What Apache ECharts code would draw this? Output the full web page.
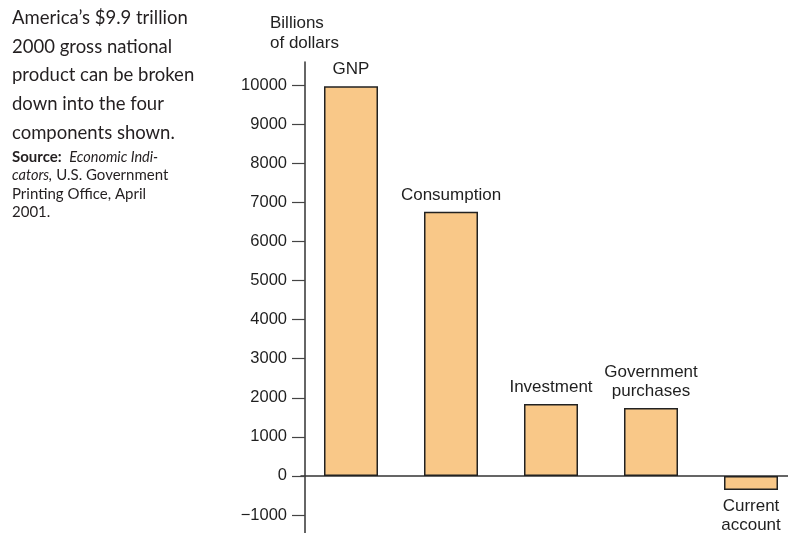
<!DOCTYPE html>
<html>
<head>
<meta charset="utf-8">
<script src="https://cdn.jsdelivr.net/npm/echarts@6/dist/echarts.min.js"></script>
<style>
  html, body { margin: 0; padding: 0; background: #fff; }
  #chart { width: 788px; height: 533px; }
</style>
</head>
<body>
<div id="chart"></div>
<script>
// components of 2000 GNP, billions of dollars
const categories = ['GNP', 'Consumption', 'Investment', 'Government\npurchases', 'Current\naccount']
const values = [9970, 6760, 1840, 1740, -360]
const tickValues = [-1000, 0, 1000, 2000, 3000, 4000, 5000, 6000, 7000, 8000, 9000, 10000]

const noteLines = [
  'America\u2019s $9.9 trillion',
  '2000 gross national',
  'product can be broken',
  'down into the four',
  'components shown.'
]
const sourceLines = [
  '{b|Source:}  {i|Economic Indi-}',
  '{i|cators,} U.S. Government',
  'Printing Office, April',
  '2001.'
]

const chart = echarts.init(document.getElementById('chart'))
const labelFont = '"Liberation Sans", Arial, sans-serif'

// left caption
const graphics = noteLines.map((t, i) => ({
  type: 'text',
  x: 12,
  y: 18 + i * 28.7,
  style: { text: t, font: '18.5px Lato, sans-serif', fill: '#231f20', verticalAlign: 'middle' }
}))
sourceLines.forEach((t, i) => {
  graphics.push({
    type: 'text',
    x: 12,
    y: 157 + i * 18.5,
    style: {
      text: t,
      font: '15px Lato, sans-serif',
      fill: '#231f20',
      verticalAlign: 'middle',
      rich: {
        b: { fontWeight: 'bold', fontSize: 15, fontFamily: 'Lato' },
        i: { fontStyle: 'italic', fontSize: 14.5, fontFamily: 'Lato' }
      }
    }
  })
})

chart.setOption({
  animation: false,
  graphic: graphics,
  grid: { left: 301, width: 500, top: 62, bottom: 0, outerBoundsMode: 'none' },
  xAxis: {
    type: 'category',
    data: categories,
    axisLine: { onZero: true, lineStyle: { color: '#333', width: 1.5 } },
    axisTick: { show: false },
    axisLabel: { show: false },
    splitLine: { show: false }
  },
  yAxis: {
    type: 'value',
    min: -1460,
    max: 10590,
    offset: -4,
    name: 'Billions\nof dollars',
    nameLocation: 'end',
    nameGap: 9,
    nameTextStyle: {
      align: 'left',
      padding: [0, 0, 0, -35],
      color: '#222',
      fontSize: 17,
      lineHeight: 20,
      fontFamily: labelFont
    },
    axisLine: { show: true, lineStyle: { color: '#333', width: 1.5 } },
    axisTick: { show: true, length: 13, customValues: tickValues, lineStyle: { color: '#444', width: 1.2 } },
    axisLabel: {
      customValues: tickValues,
      margin: 18,
      color: '#1f1f1f',
      fontSize: 16.5,
      fontFamily: labelFont,
      formatter: v => (v < 0 ? '\u2212' + Math.abs(v) : String(v))
    },
    splitLine: { show: false }
  },
  series: [
    {
      type: 'bar',
      barWidth: 54,
      data: values.map(v => ({
        value: v,
        label: { position: v < 0 ? 'bottom' : 'top' }
      })),
      itemStyle: { color: '#f9c888', borderColor: '#222', borderWidth: 1.5 },
      label: {
        show: true,
        distance: 7,
        color: '#1f1f1f',
        fontSize: 17,
        lineHeight: 19,
        fontFamily: labelFont,
        formatter: p => categories[p.dataIndex]
      }
    }
  ]
})
</script>
</body>
</html>
